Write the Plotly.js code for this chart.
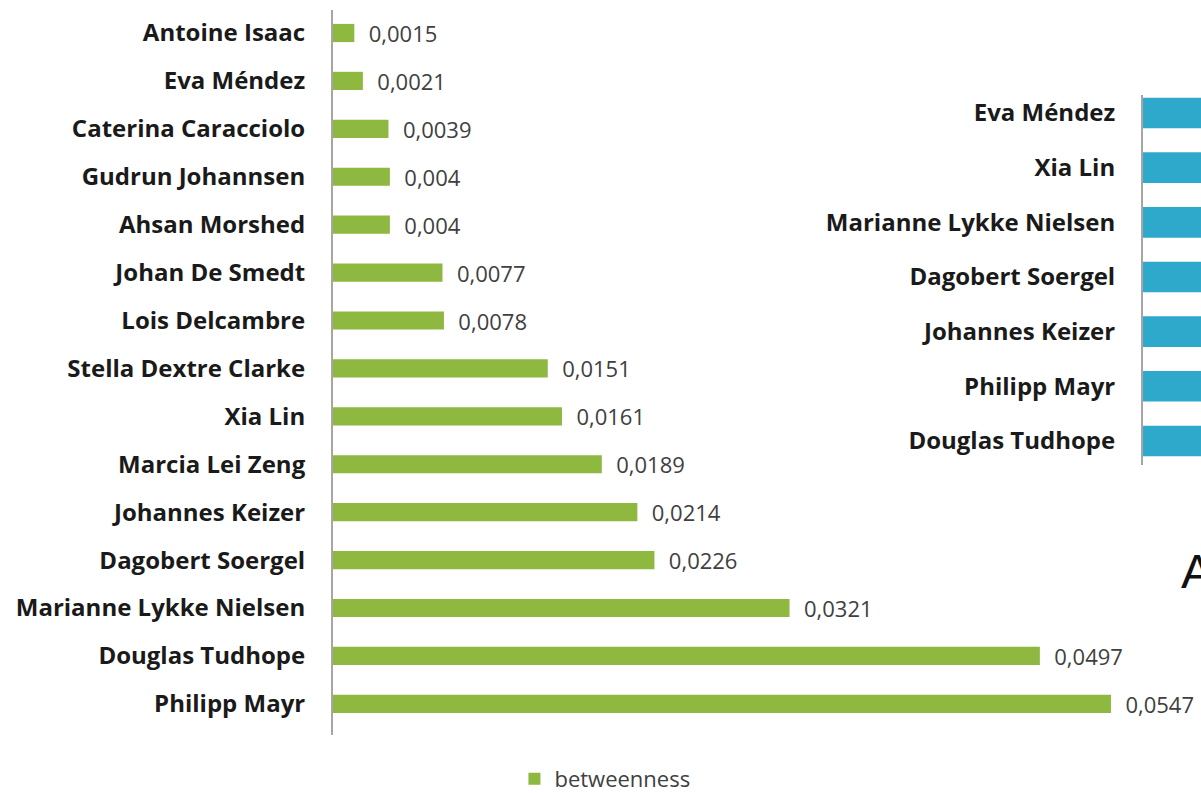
<!DOCTYPE html>
<html><head><meta charset="utf-8">
<script src="https://cdn.plot.ly/plotly-3.0.1.min.js"></script>
<style>html,body{margin:0;padding:0;background:#fff}#chart{width:1201px;height:793px}</style>
</head><body><div id="chart"></div>
<script>
// Main chart: betweenness (bottom to top)
const names = ["Philipp Mayr","Douglas Tudhope","Marianne Lykke Nielsen","Dagobert Soergel","Johannes Keizer","Marcia Lei Zeng","Xia Lin","Stella Dextre Clarke","Lois Delcambre","Johan De Smedt","Ahsan Morshed","Gudrun Johannsen","Caterina Caracciolo","Eva Méndez","Antoine Isaac"];
const betweenness = [0.0547,0.0497,0.0321,0.0226,0.0214,0.0189,0.0161,0.0151,0.0078,0.0077,0.004,0.004,0.0039,0.0021,0.0015];
// Second (cropped) chart, bottom to top; bars run past the visible edge
const names2 = ["Douglas Tudhope","Philipp Mayr","Johannes Keizer","Dagobert Soergel","Marianne Lykke Nielsen","Xia Lin","Eva Méndez"];
const values2 = [1,1,1,1,1,1,1];

const labels = betweenness.map(v => "  " + String(v).replace(".", ","));
const labelFont = {family:"Open Sans", size:24, color:"#1a1a1a", weight:"bold"};

const traces = [
  {type:"bar", orientation:"h", name:"betweenness", y:names, x:betweenness,
   marker:{color:"#8eb840", line:{width:0}}, width:0.38,
   text:labels, textposition:"outside", cliponaxis:false, constraintext:"none",
   textfont:{family:"Open Sans", size:22, color:"#404040"},
   hoverinfo:"x+y"},
  {type:"bar", orientation:"h", name:"second", y:names2, x:values2, xaxis:"x2", yaxis:"y2",
   marker:{color:"#2ea9cc"}, width:0.56, showlegend:false}
];

const layout = {
  width:1201, height:793,
  margin:{l:333, r:0, t:10, b:58},
  paper_bgcolor:"#fff", plot_bgcolor:"rgba(0,0,0,0)",
  xaxis:{range:[0,0.06103], domain:[0,1], visible:false, fixedrange:true},
  yaxis:{type:"category", range:[-0.65,14.48], domain:[0,1], showline:true, linecolor:"#a6a6a6", linewidth:2,
         ticks:"", showgrid:false, zeroline:false, ticklabelstandoff:21, tickfont:labelFont},
  xaxis2:{anchor:"y2", domain:[0.9332,1], range:[0,0.5], visible:false, fixedrange:true},
  yaxis2:{anchor:"x2", type:"category", domain:[0.3724,0.8828], range:[-0.44,6.33], showline:true, linecolor:"#a6a6a6", linewidth:2,
          ticks:"", showgrid:false, zeroline:false, ticklabelstandoff:21, tickfont:labelFont},
  showlegend:true,
  legend:{orientation:"h", xref:"container", yref:"container", x:0.5037, xanchor:"center", y:0.0177, yanchor:"middle",
          font:{family:"Open Sans", size:22, color:"#404040"}, itemwidth:30},
  annotations:[{xref:"paper", yref:"paper", x:0.9745, y:0.225, xanchor:"left", yanchor:"middle",
                text:"A", showarrow:false, font:{family:"Liberation Sans", size:48, color:"#111"}}]
};
Plotly.newPlot("chart", traces, layout, {displayModeBar:false, staticPlot:true});
</script></body></html>
